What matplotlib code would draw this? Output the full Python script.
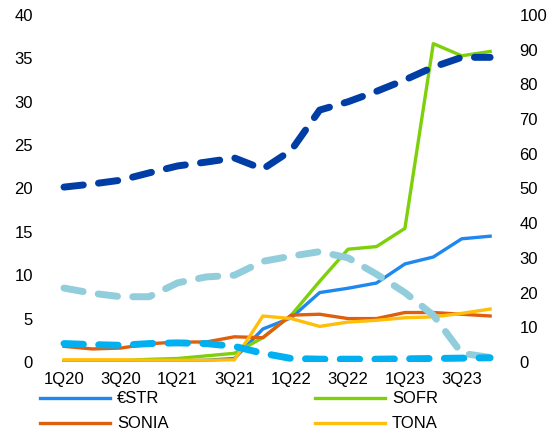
import matplotlib
matplotlib.use("Agg")
import matplotlib.pyplot as plt

plt.rcParams['font.family'] = ['Liberation Sans', 'DejaVu Sans']

quarters = ['1Q20', '2Q20', '3Q20', '4Q20', '1Q21', '2Q21', '3Q21', '4Q21',
            '1Q22', '2Q22', '3Q22', '4Q22', '1Q23', '2Q23', '3Q23', '4Q23']

# left axis (solid lines)
estr = [0.0, 0.0, 0.0, 0.0, 0.1, 0.2, 0.4, 3.8, 5.1, 8.0, 8.5, 9.1, 11.3, 12.1, 14.2, 14.5]
sofr = [0.1, 0.1, 0.15, 0.3, 0.4, 0.7, 1.0, 2.8, 5.4, 9.3, 13.0, 13.3, 15.4, 36.7, 35.3, 35.8]
sonia = [1.8, 1.5, 1.6, 2.1, 2.3, 2.3, 2.9, 2.8, 5.4, 5.5, 5.0, 5.0, 5.7, 5.7, 5.5, 5.3]
tona = [0.25, 0.25, 0.25, 0.2, 0.2, 0.2, 0.25, 5.3, 5.0, 4.1, 4.6, 4.8, 5.1, 5.2, 5.6, 6.1]

# right axis (dashed lines)
navy_dash = [50.4, 51.3, 52.4, 54.5, 56.5, 57.6, 58.8, 55.6, 61.0, 72.6, 75.0, 78.0, 81.3, 85.0, 87.8, 87.8]
light_dash = [21.3, 19.8, 18.8, 18.8, 22.8, 24.5, 25.0, 29.0, 30.5, 31.8, 30.0, 25.3, 20.0, 13.5, 2.5, 1.3]
cyan_dash = [5.3, 5.0, 4.8, 5.3, 5.5, 5.3, 4.5, 2.5, 1.0, 0.8, 0.8, 0.8, 0.9, 1.0, 1.1, 1.2]

x = list(range(len(quarters)))

fig = plt.figure(figsize=(5.53, 4.34), dpi=100)
ax1 = fig.add_axes([0.09, 0.166, 0.822, 0.7994])
ax2 = ax1.twinx()

l1, = ax1.plot(x, estr, color='#1E88F0', lw=2.4, label='€STR')
l2, = ax1.plot(x, sofr, color='#7DD00A', lw=2.4, label='SOFR')
l3, = ax1.plot(x, sonia, color='#DE5F0E', lw=2.4, label='SONIA')
l4, = ax1.plot(x, tona, color='#FFBE0A', lw=2.4, label='TONA')

dash = (0, (2.8, 2.2))
ax2.plot(x, light_dash, color='#92CDDC', lw=5, linestyle=dash, dash_capstyle='round')
ax2.plot(x, cyan_dash, color='#00B0F0', lw=5, linestyle=dash, dash_capstyle='round')
ax2.plot(x, navy_dash, color='#003DA5', lw=5, linestyle=dash, dash_capstyle='round')

ax1.set_xlim(-0.5, 15.5)
ax1.set_ylim(0, 40)
ax2.set_ylim(0, 100)
ax1.set_yticks(range(0, 41, 5))
ax2.set_yticks(range(0, 101, 10))
ax1.set_xticks(x[::2])
ax1.set_xticklabels(quarters[::2])

for ax in (ax1, ax2):
    for s in ax.spines.values():
        s.set_visible(False)
ax1.tick_params(axis='y', length=0, pad=12, labelsize=12)
ax2.tick_params(axis='y', length=0, pad=11, labelsize=12)
ax1.tick_params(axis='x', length=0, pad=7, labelsize=12)

fig.legend(handles=[l1, l3, l2, l4], loc='upper left', bbox_to_anchor=(0.073, 0.098),
           ncol=2, frameon=False, fontsize=12, handlelength=4.2, handletextpad=0.4,
           columnspacing=8.8, labelspacing=0.6, borderpad=0, borderaxespad=0)

fig.savefig('out.png', dpi=100)
